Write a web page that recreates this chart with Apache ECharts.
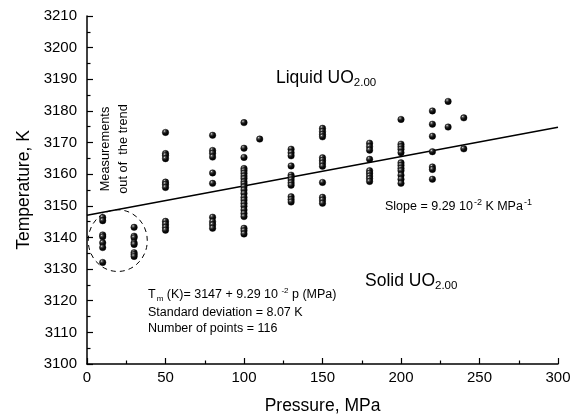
<!DOCTYPE html>
<html>
<head>
<meta charset="utf-8">
<script src="https://cdn.jsdelivr.net/npm/echarts@6/dist/echarts.min.js"></script>
<style>html,body{margin:0;padding:0;background:#fff}#c{width:583px;height:420px}</style>
</head>
<body>
<div id="c"></div>
<script>
// Pressures (MPa) of each measurement column
var pressures = [10, 30, 50, 80, 100, 110, 130, 150, 180, 200, 220, 230, 240];
// Melting temperatures (K) measured at each pressure
var temps10  = [3146.3, 3145.3, 3140.8, 3140.2, 3138.3, 3136.8, 3132.1];
var temps30  = [3143.2, 3140.4, 3139.9, 3138.3, 3137.8, 3135.2, 3134.6, 3134.0];
var temps50  = [3173.2, 3166.5, 3165.9, 3164.9, 3157.5, 3156.8, 3155.8, 3145.1, 3144.2, 3143.2, 3142.3];
var temps80  = [3172.3, 3167.5, 3166.6, 3165.4, 3160.4, 3157.1, 3146.4, 3145.0, 3144.0, 3142.9];
var temps100 = [3176.3, 3168.2, 3165.3, 3161.8, 3161.1, 3160.3, 3159.4, 3158.6, 3157.6, 3156.9, 3156.0, 3155.0, 3153.9, 3152.7, 3151.8, 3150.8, 3149.9, 3148.7, 3147.6, 3146.6, 3142.9, 3142.1, 3141.1];
var temps110 = [3171.1];
var temps130 = [3167.9, 3166.8, 3165.8, 3162.6, 3159.7, 3159.0, 3158.2, 3157.3, 3156.5, 3152.9, 3152.0, 3151.2];
var temps150 = [3174.5, 3173.5, 3172.6, 3171.8, 3165.2, 3164.4, 3163.5, 3162.5, 3157.4, 3152.7, 3151.8, 3150.8];
var temps180 = [3169.8, 3168.7, 3167.6, 3164.7, 3161.1, 3160.3, 3159.4, 3158.6, 3157.7];
var temps200 = [3177.3, 3169.5, 3168.7, 3167.9, 3166.8, 3163.6, 3162.8, 3161.9, 3161.1, 3159.7, 3158.4, 3157.1];
var temps220 = [3180.0, 3175.8, 3172.0, 3167.1, 3162.3, 3161.5, 3158.4];
var temps230 = [3183.0, 3174.9];
var temps240 = [3177.8, 3168.0];
var tempColumns = [temps10, temps30, temps50, temps80, temps100, temps110, temps130, temps150, temps180, temps200, temps220, temps230, temps240];

// Linear fit Tm = intercept + slope * p
var fitIntercept = 3147;
var fitSlope = 0.0929;
var fitRange = [0, 300];

// Dashed ellipse around outlying points: [centre p, centre T, half-width p, half-height T]
var outlierEllipse = [19.6, 3139.0, 18.8, 9.75];

var xTicks = {min: 0, max: 300, interval: 50};
var yTicks = {min: 3100, max: 3210, interval: 10};

var points = [];
pressures.forEach(function (p, i) {
  tempColumns[i].forEach(function (t) { points.push([p, t]); });
});
var fitLine = fitRange.map(function (p) { return [p, fitIntercept + fitSlope * p]; });

var FONT = 'Liberation Sans, Arial, Helvetica, sans-serif';
var chart = echarts.init(document.getElementById('c'), null, {renderer: 'canvas'});

var ball = new echarts.graphic.RadialGradient(0.35, 0.3, 0.65, [
  {offset: 0, color: '#e8e8e8'},
  {offset: 0.22, color: '#555555'},
  {offset: 0.55, color: '#111111'},
  {offset: 1, color: '#000000'}
]);

chart.setOption({
  backgroundColor: '#ffffff',
  animation: false,
  grid: {left: 87, right: 25, top: 16, bottom: 56},
  xAxis: {
    type: 'value', min: xTicks.min, max: xTicks.max, interval: xTicks.interval,
    name: 'Pressure, MPa', nameLocation: 'middle', nameGap: 33,
    nameTextStyle: {fontFamily: FONT, fontSize: 17.5, color: '#000'},
    axisLine: {lineStyle: {color: '#000', width: 1.5}},
    axisTick: {inside: true, length: 6, lineStyle: {color: '#000', width: 1.2}},
    minorTick: {show: true, splitNumber: 2, length: 3.5, lineStyle: {color: '#000', width: 1.2}},
    axisLabel: {fontFamily: FONT, fontSize: 15, color: '#000', margin: 6},
    splitLine: {show: false}
  },
  yAxis: {
    type: 'value', min: yTicks.min, max: yTicks.max, interval: yTicks.interval,
    name: 'Temperature, K', nameLocation: 'middle', nameGap: 53, nameRotate: 90,
    nameTextStyle: {fontFamily: FONT, fontSize: 17.5, color: '#000'},
    axisLine: {show: true, lineStyle: {color: '#000', width: 1.5}},
    axisTick: {show: true, inside: true, length: 6, lineStyle: {color: '#000', width: 1.2}},
    minorTick: {show: true, splitNumber: 2, length: 3.5, lineStyle: {color: '#000', width: 1.2}},
    axisLabel: {fontFamily: FONT, fontSize: 15, color: '#000', margin: 10,
                formatter: function (v) { return String(v); }},
    splitLine: {show: false}
  },
  series: [
    {
      type: 'line', data: fitLine, showSymbol: false, symbol: 'none',
      lineStyle: {color: '#000', width: 1.5}, z: 2
    },
    {
      type: 'scatter', data: points, symbol: 'circle', symbolSize: 6.5,
      itemStyle: {color: ball, borderColor: '#000', borderWidth: 0.4, opacity: 1}, z: 3
    },
    {
      type: 'custom', data: [outlierEllipse], z: 1,
      renderItem: function (params, api) {
        var c = api.coord([api.value(0), api.value(1)]);
        var s = api.size([api.value(2), api.value(3)]);
        return {
          type: 'ellipse',
          shape: {cx: c[0], cy: c[1], rx: s[0], ry: s[1]},
          style: {fill: 'none', stroke: '#000', lineWidth: 1, lineDash: [5, 4]}
        };
      }
    }
  ],
  graphic: [
    {
      type: 'text', x: 276, y: 78,
      style: {
        text: '{a|Liquid UO}{s|2.00}', verticalAlign: 'middle', fill: '#000',
        rich: {a: {fontFamily: FONT, fontSize: 17.5, color: '#000'},
               s: {fontFamily: FONT, fontSize: 11.5, color: '#000', padding: [9, 0, 0, 0]}}
      }
    },
    {
      type: 'text', x: 365, y: 281,
      style: {
        text: '{a|Solid UO}{s|2.00}', verticalAlign: 'middle', fill: '#000',
        rich: {a: {fontFamily: FONT, fontSize: 17.5, color: '#000'},
               s: {fontFamily: FONT, fontSize: 11.5, color: '#000', padding: [9, 0, 0, 0]}}
      }
    },
    {
      type: 'text', x: 385, y: 207,
      style: {
        text: '{a|Slope = 9.29 10}{p|-2}{a| K MPa}{p|-1}', verticalAlign: 'middle', fill: '#000',
        rich: {a: {fontFamily: FONT, fontSize: 12.5, color: '#000'},
               p: {fontFamily: FONT, fontSize: 9, color: '#000', padding: [0, 0, 8, 1]}}
      }
    },
    {
      type: 'text', x: 114, y: 149, rotation: Math.PI / 2,
      style: {
        text: 'Measurements\nout of  the trend', align: 'center', verticalAlign: 'middle',
        fontFamily: FONT, fontSize: 12.8, lineHeight: 18, fill: '#000'
      }
    },
    {
      type: 'text', x: 148, y: 295,
      style: {
        text: '{a|T}{s|m}{a| (K)= 3147 + 9.29 10 }{p|-2}{a| p (MPa)}', verticalAlign: 'middle', fill: '#000',
        rich: {a: {fontFamily: FONT, fontSize: 12.5, color: '#000'},
               s: {fontFamily: FONT, fontSize: 8, color: '#000', padding: [7, 0, 0, 1]},
               p: {fontFamily: FONT, fontSize: 8, color: '#000', padding: [0, 0, 8, 0]}}
      }
    },
    {
      type: 'text', x: 148, y: 313,
      style: {text: 'Standard deviation = 8.07 K', verticalAlign: 'middle', fontFamily: FONT, fontSize: 12.5, fill: '#000'}
    },
    {
      type: 'text', x: 148, y: 329,
      style: {text: 'Number of points = 116', verticalAlign: 'middle', fontFamily: FONT, fontSize: 12.5, fill: '#000'}
    }
  ]
});
</script>
</body>
</html>
